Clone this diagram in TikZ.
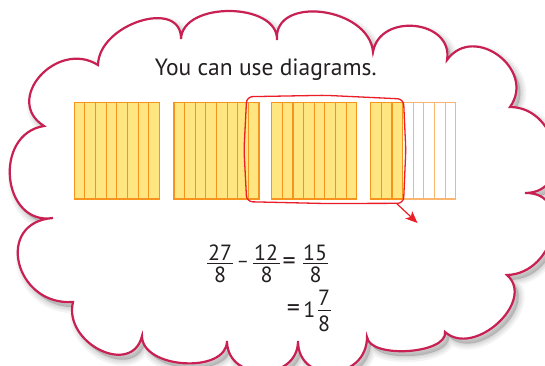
\documentclass[tikz,border=0pt]{standalone}
\usepackage{fontspec}
\setmainfont{PT Sans}
\usetikzlibrary{arrows.meta}
\definecolor{cloudred}{RGB}{200,32,82}
\definecolor{boxred}{RGB}{235,30,40}
\definecolor{barfill}{RGB}{255,230,128}
\definecolor{barline}{RGB}{247,148,29}
\definecolor{barlight}{RGB}{250,182,112}
\definecolor{ink}{RGB}{35,31,32}
\newcommand\cloudpath{(98,65)
 .. controls (98.7,23.7) and (181.7,-2.3) .. (181,39)
 .. controls (182.3,1) and (278.3,2) .. (277,40)
 .. controls (273,-5.3) and (369,6.7) .. (373,52)
 .. controls (379.7,12) and (453.7,20) .. (447,60)
 .. controls (473.7,22.7) and (536.7,69.7) .. (510,107)
 .. controls (560,107) and (575,193) .. (525,193)
 .. controls (574,191.7) and (556,273.7) .. (507,275)
 .. controls (536.3,301) and (474.3,358) .. (445,332)
 .. controls (447.7,354) and (369.7,359) .. (367,337)
 .. controls (367,381) and (298,385) .. (298,341)
 .. controls (298,382) and (227,382) .. (227,341)
 .. controls (227,374) and (142,369) .. (142,336)
 .. controls (132,377.3) and (63,343.3) .. (73,302)
 .. controls (14.3,306) and (-5.7,222) .. (53,218)
 .. controls (1.7,226) and (-7.3,134) .. (44,126)
 .. controls (2.7,100) and (56.7,39) .. (98,65) -- cycle}
\newcommand\titlefont{\fontsize{23.5}{28}\selectfont}
\newcommand\numfont{\fontsize{22}{26}\selectfont}
\newcommand\eqfont{\fontsize{26}{30}\selectfont}
\newcommand\minfont{\fontsize{19}{22}\selectfont}
\tikzset{
 num/.style={font=\numfont, text=ink, anchor=base, inner sep=0pt},
 sym/.style={font=\eqfont, text=ink, anchor=center, inner sep=0pt},
 fracbar/.style={draw=ink, line width=1.1pt},
 cloudline/.style={draw=cloudred, line width=2.2pt, fill=white, line join=miter},
 shadowlayer/.style={draw=black, fill=black, opacity=0.045, shift={(4,5)}},
 strip/.style={draw=barline, line width=1.1pt},
 lightstrip/.style={draw=barlight, line width=1pt},
 redbox/.style={draw=boxred, line width=1.3pt, rounded corners=6pt},
}
\begin{document}
\begin{tikzpicture}[x=1pt,y=-1pt]
\useasboundingbox (0,0) rectangle (545,365);
% shadow
\foreach \w in {12,8,5,2}{\path[shadowlayer, line width=\w pt] \cloudpath;}
% cloud
\path[cloudline] \cloudpath;
% title
\node[font=\titlefont, text=ink, anchor=base, inner sep=0pt] (title) at (265.8,75) {You can use diagrams.};
% full bars
\foreach \x in {74.3,174,271.7}{
 \fill[barfill] (\x,102.3) rectangle ++(85,96.7);
 \foreach \k in {1,...,7}{\draw[strip] ({\x+\k*10.625},102.3) -- ++(0,96.7);}
 \draw[strip, line width=1.4pt] (\x,102.3) rectangle ++(85,96.7);
}
% partial bar
\fill[barfill] (370.7,102.3) rectangle ++(31.875,96.7);
\foreach \k in {4,...,7}{\draw[lightstrip] ({370.7+\k*10.625},102.3) -- ++(0,96.7);}
\draw[lightstrip, line width=1.3pt] (402.575,102.3) rectangle (455.7,199);
\foreach \k in {1,2,3}{\draw[strip] ({370.7+\k*10.625},102.3) -- ++(0,96.7);}
\draw[strip, line width=1.4pt] (370.7,102.3) rectangle (402.575,199);
% red loop
\draw[redbox] (246.7,96.7) -- (325,95.3) -- (403.5,99) -- (405.8,150) -- (403.5,203.3) -- (325,203.5) -- (246.7,201.7) -- (244,150) -- cycle;
\coordinate (loopout) at (396.5,203.4);
\coordinate (tip) at (417.5,223);
\draw[boxred, line width=1.2pt, -{Stealth[length=12pt,width=10pt,inset=3pt]}] (loopout) -- (tip);
% equation line 1
\node[num] (n1) at (220,260.7) {27};
\draw[fracbar] (207.3,263.5) -- (232.7,263.5);
\node[num] (d1) at (220,282.7) {8};
\node[sym, font=\minfont] (minus) at (242.8,264) {–};
\node[num] (n2) at (266,260.7) {12};
\draw[fracbar] (253.3,263.5) -- (280,263.5);
\node[num] (d2) at (266.5,282.7) {8};
\node[sym] (eq1) at (289.2,263.7) {=};
\node[num] (n3) at (315,260.7) {15};
\draw[fracbar] (303.3,263.5) -- (328.3,263.5);
\node[num] (d3) at (315.5,282.7) {8};
% equation line 2
\node[sym] (eq2) at (293.4,311) {=};
\node[num] (one) at (309.4,317.3) {1};
\node[num] (n4) at (324,305) {7};
\draw[fracbar] (317.5,310.3) -- (330.5,310.3);
\node[num] (d4) at (324,331.7) {8};
\end{tikzpicture}
\end{document}
